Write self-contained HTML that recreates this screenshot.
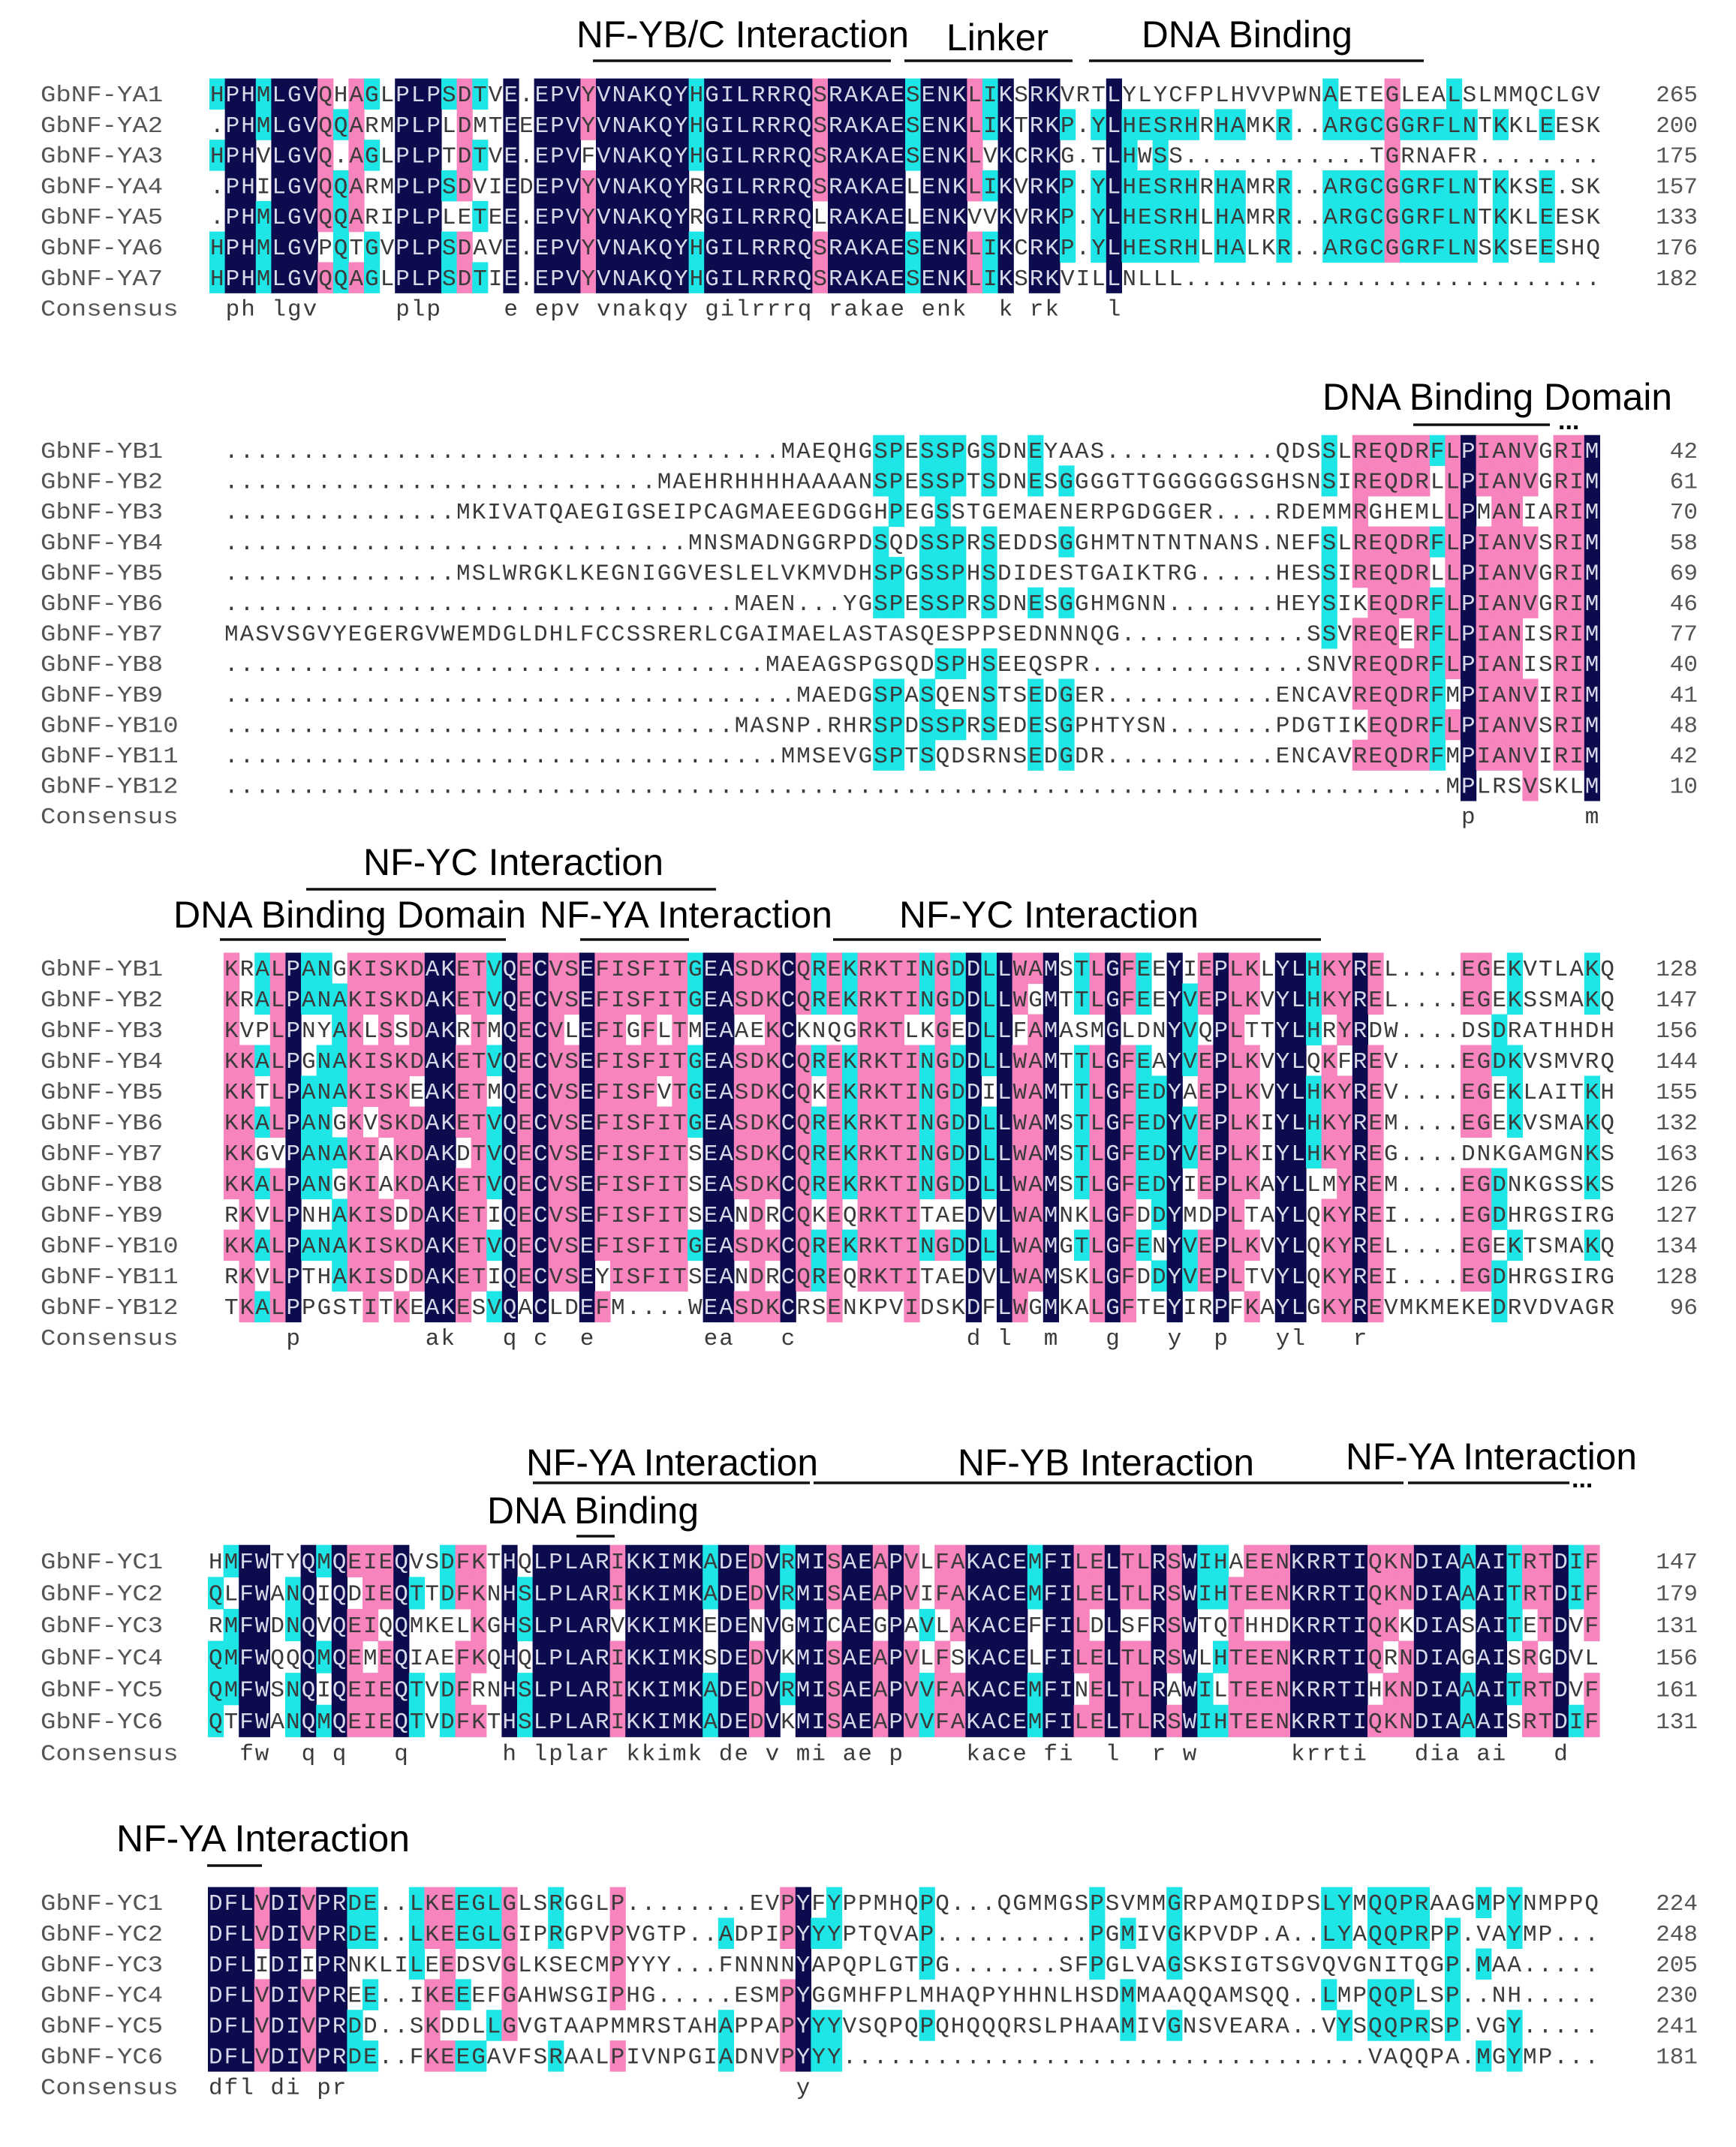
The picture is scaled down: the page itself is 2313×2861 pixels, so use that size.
<!DOCTYPE html>
<html><head><meta charset="utf-8"><style>
html,body{margin:0;padding:0;background:#fff;}
svg{display:block;}
</style></head><body>
<svg id="chart" xmlns="http://www.w3.org/2000/svg" width="2313" height="2861" viewBox="0 0 2313 2861">
<rect x="0" y="0" width="2313" height="2861" fill="#ffffff"/>
<g id="ann" font-family="'Liberation Sans', sans-serif" font-size="50" fill="#000">
  <text x="768" y="63" textLength="443" lengthAdjust="spacingAndGlyphs">NF-YB/C Interaction</text>
  <line x1="790" y1="81" x2="1187" y2="81" stroke="#111" stroke-width="3.5"/>
  <text x="1261" y="67" textLength="136" lengthAdjust="spacingAndGlyphs">Linker</text>
  <line x1="1205" y1="81" x2="1429" y2="81" stroke="#111" stroke-width="3.5"/>
  <text x="1521" y="63" textLength="281" lengthAdjust="spacingAndGlyphs">DNA Binding</text>
  <line x1="1451" y1="81" x2="1897" y2="81" stroke="#111" stroke-width="3.5"/>

  <text x="1762" y="546" textLength="466" lengthAdjust="spacingAndGlyphs">DNA Binding Domain</text>
  <line x1="1883" y1="566" x2="2065" y2="566" stroke="#111" stroke-width="3.5"/>
  <text x="2076" y="572" font-size="34" font-weight="bold">...</text>

  <text x="484" y="1166" textLength="400" lengthAdjust="spacingAndGlyphs">NF-YC Interaction</text>
  <line x1="408" y1="1185" x2="954" y2="1185" stroke="#111" stroke-width="3.5"/>
  <text x="231" y="1236" textLength="470" lengthAdjust="spacingAndGlyphs">DNA Binding Domain</text>
  <line x1="293" y1="1252" x2="674" y2="1252" stroke="#111" stroke-width="3.5"/>
  <text x="719" y="1236" textLength="390" lengthAdjust="spacingAndGlyphs">NF-YA Interaction</text>
  <line x1="773" y1="1252" x2="918" y2="1252" stroke="#111" stroke-width="3.5"/>
  <text x="1198" y="1236" textLength="399" lengthAdjust="spacingAndGlyphs">NF-YC Interaction</text>
  <line x1="1110" y1="1252" x2="1760" y2="1252" stroke="#111" stroke-width="3.5"/>

  <text x="701" y="1966" textLength="389" lengthAdjust="spacingAndGlyphs">NF-YA Interaction</text>
  <line x1="710" y1="1976" x2="1079" y2="1976" stroke="#111" stroke-width="3.5"/>
  <text x="1276" y="1966" textLength="395" lengthAdjust="spacingAndGlyphs">NF-YB Interaction</text>
  <line x1="1084" y1="1976" x2="1870" y2="1976" stroke="#111" stroke-width="3.5"/>
  <text x="1793" y="1958" textLength="388" lengthAdjust="spacingAndGlyphs">NF-YA Interaction</text>
  <line x1="1876" y1="1976" x2="2091" y2="1976" stroke="#111" stroke-width="3.5"/>
  <text x="2094" y="1982" font-size="34" font-weight="bold">...</text>
  <text x="649" y="2030" textLength="282" lengthAdjust="spacingAndGlyphs">DNA Binding</text>
  <line x1="768" y1="2047" x2="819" y2="2047" stroke="#111" stroke-width="3.5"/>

  <text x="155" y="2467" textLength="391" lengthAdjust="spacingAndGlyphs">NF-YA Interaction</text>
  <line x1="276" y1="2486" x2="349" y2="2486" stroke="#111" stroke-width="3.5"/>
</g>
<g id="aln"></g>
</svg>
<script>
// ---- data ----
const namesA = ["GbNF-YA1","GbNF-YA2","GbNF-YA3","GbNF-YA4","GbNF-YA5","GbNF-YA6","GbNF-YA7"];
const seqsA = [
"HPHMLGVQHAGLPLPSDTVE.EPVYVNAKQYHGILRRRQSRAKAESENKLIKSRKVRTLYLYCFPLHVVPWNAETEGLEALSLMMQCLGV",
".PHMLGVQQARMPLPLDMTEEEPVYVNAKQYHGILRRRQSRAKAESENKLIKTRKP.YLHESRHRHAMKR..ARGCGGRFLNTKKLEESK",
"HPHVLGVQ.AGLPLPTDTVE.EPVFVNAKQYHGILRRRQSRAKAESENKLVKCRKG.TLHWSS............TGRNAFR........",
".PHILGVQQARMPLPSDVIEDEPVYVNAKQYRGILRRRQSRAKAELENKLIKVRKP.YLHESRHRHAMRR..ARGCGGRFLNTKKSE.SK",
".PHMLGVQQARIPLPLETEE.EPVYVNAKQYRGILRRRQLRAKAELENKVVKVRKP.YLHESRHLHAMRR..ARGCGGRFLNTKKLEESK",
"HPHMLGVPQTGVPLPSDAVE.EPVYVNAKQYHGILRRRQSRAKAESENKLIKCRKP.YLHESRHLHALKR..ARGCGGRFLNSKSEESHQ",
"HPHMLGVQQAGLPLPSDTIE.EPVYVNAKQYHGILRRRQSRAKAESENKLIKSRKVILLNLLL..........................."
];
const numsA = [265,200,175,157,133,176,182];

const namesB = ["GbNF-YB1","GbNF-YB2","GbNF-YB3","GbNF-YB4","GbNF-YB5","GbNF-YB6","GbNF-YB7","GbNF-YB8","GbNF-YB9","GbNF-YB10","GbNF-YB11","GbNF-YB12"];
const seqsB = [
"*MAEQHGSPESSPGSDNEYAAS...........QDSSLREQDRFLPIANVGRIM",
"*MAEHRHHHHAAAANSPESSPTSDNESGGGGTTGGGGGGSGHSNSIREQDRLLPIANVGRIM",
"*MKIVATQAEGIGSEIPCAGMAEEGDGGHPEGSSTGEMAENERPGDGGER....RDEMMRGHEMLLPMANIARIM",
"*MNSMADNGGRPDSQDSSPRSEDDSGGHMTNTNTNANS.NEFSLREQDRFLPIANVSRIM",
"*MSLWRGKLKEGNIGGVESLELVKMVDHSPGSSPHSDIDESTGAIKTRG.....HESSIREQDRLLPIANVGRIM",
"*MAEN...YGSPESSPRSDNESGGHMGNN.......HEYSIKEQDRFLPIANVGRIM",
"MASVSGVYEGERGVWEMDGLDHLFCCSSRERLCGAIMAELASTASQESPPSEDNNNQG*SSVREQERFLPIANISRIM",
"*MAEAGSPGSQDSPHSEEQSPR..............SNVREQDRFLPIANISRIM",
"*MAEDGSPASQENSTSEDGER...........ENCAVREQDRFMPIANVIRIM",
"*MASNP.RHRSPDSSPRSEDESGPHTYSN.......PDGTIKEQDRFLPIANVSRIM",
"*MMSEVGSPTSQDSRNSEDGDR...........ENCAVREQDRFMPIANVIRIM",
"*MPLRSVSKLM"
];
const numsB = [42,61,70,58,69,46,77,40,41,48,42,10];

const namesC = namesB;
const seqsC = [
"KRALPANGKISKDAKETVQECVSEFISFITGEASDKCQREKRKTINGDDLLWAMSTLGFEEYIEPLKLYLHKYREL....EGEKVTLAKQ",
"KRALPANAKISKDAKETVQECVSEFISFITGEASDKCQREKRKTINGDDLLWGMTTLGFEEYVEPLKVYLHKYREL....EGEKSSMAKQ",
"KVPLPNYAKLSSDAKRTMQECVLEFIGFLTMEAAEKCKNQGRKTLKGEDLLFAMASMGLDNYVQPLTTYLHRYRDW....DSDRATHHDH",
"KKALPGNAKISKDAKETVQECVSEFISFITGEASDKCQREKRKTINGDDLLWAMTTLGFEAYVEPLKVYLQKFREV....EGDKVSMVRQ",
"KKTLPANAKISKEAKETMQECVSEFISFVTGEASDKCQKEKRKTINGDDILWAMTTLGFEDYAEPLKVYLHKYREV....EGEKLAITKH",
"KKALPANGKVSKDAKETVQECVSEFISFITGEASDKCQREKRKTINGDDLLWAMSTLGFEDYVEPLKIYLHKYREM....EGEKVSMAKQ",
"KKGVPANAKIAKDAKDTVQECVSEFISFITSEASDKCQREKRKTINGDDLLWAMSTLGFEDYVEPLKIYLHKYREG....DNKGAMGNKS",
"KKALPANGKIAKDAKETVQECVSEFISFITSEASDKCQREKRKTINGDDLLWAMSTLGFEDYIEPLKAYLLMYREM....EGDNKGSSKS",
"RKVLPNHAKISDDAKETIQECVSEFISFITSEANDRCQKEQRKTITAEDVLWAMNKLGFDDYMDPLTAYLQKYREI....EGDHRGSIRG",
"KKALPANAKISKDAKETVQECVSEFISFITGEASDKCQREKRKTINGDDLLWAMGTLGFENYVEPLKVYLQKYREL....EGEKTSMAKQ",
"RKVLPTHAKISDDAKETIQECVSEYISFITSEANDRCQREQRKTITAEDVLWAMSKLGFDDYVEPLTVYLQKYREI....EGDHRGSIRG",
"TKALPPGSTITKEAKESVQACLDEFM....WEASDKCRSENKPVIDSKDFLWGMKALGFTEYIRPFKAYLGKYREVMKMEKEDRVDVAGR"
];
const numsC = [128,147,156,144,155,132,163,126,127,134,128,96];

const namesD = ["GbNF-YC1","GbNF-YC2","GbNF-YC3","GbNF-YC4","GbNF-YC5","GbNF-YC6"];
const seqsD = [
"HMFWTYQMQEIEQVSDFKTHQLPLARIKKIMKADEDVRMISAEAPVLFAKACEMFILELTLRSWIHAEENKRRTIQKNDIAAAITRTDIF",
"QLFWANQIQDIEQTTDFKNHSLPLARIKKIMKADEDVRMISAEAPVIFAKACEMFILELTLRSWIHTEENKRRTIQKNDIAAAITRTDIF",
"RMFWDNQVQEIQQMKELKGHSLPLARVKKIMKEDENVGMICAEGPAVLAKACEFFILDLSFRSWTQTHHDKRRTIQKKDIASAITETDVF",
"QMFWQQQMQEMEQIAEFKQHQLPLARIKKIMKSDEDVKMISAEAPVLFSKACELFILELTLRSWLHTEENKRRTIQRNDIAGAISRGDVL",
"QMFWSNQIQEIEQTVDFRNHSLPLARIKKIMKADEDVRMISAEAPVVFAKACEMFINELTLRAWILTEENKRRTIHKNDIAAAITRTDVF",
"QTFWANQMQEIEQTVDFKTHSLPLARIKKIMKADEDVKMISAEAPVVFAKACEMFILELTLRSWIHTEENKRRTIQKNDIAAAISRTDIF"
];
const numsD = [147,179,131,156,161,131];

const namesE = namesD;
const seqsE = [
"DFLVDIVPRDE..LKEEGLGLSRGGLP........EVPYFYPPMHQPQ...QGMMGSPSVMMGRPAMQIDPSLYMQQPRAAGMPYNMPPQ",
"DFLVDIVPRDE..LKEEGLGIPRGPVPVGTP..ADPIPYYYPTQVAP..........PGMIVGKPVDP.A..LYAQQPRPP.VAYMP...",
"DFLIDIIPRNKLILEEDSVGLKSECMPYYY...FNNNNYAPQPLGTPG.......SFPGLVAGSKSIGTSGVQVGNITQGP.MAA.....",
"DFLVDIVPREE..IKEEEFGAHWSGIPHG.....ESMPYGGMHFPLMHAQPYHHNLHSDMMAAQQAMSQQ..LMPQQPLSP..NH.....",
"DFLVDIVPRDD..SKDDLLGVGTAAPMMRSTAHAPPAPYYYVSQPQPQHQQQRSLPHAAMIVGNSVEARA..VYSQQPRSP.VGY.....",
"DFLVDIVPRDE..FKEEGAVFSRAALPIVNPGIADNVPYYY*VAQQPA.MGYMP..."
];
const numsE = [224,248,205,230,241,181];

// ---- layout (not data) ----
const CW = 20.6;
const layout = [
  {key:"a", names:namesA, seqs:seqsA, nums:numsA, x0:279, y0:125, dy:40.8, L:90},
  {key:"b", names:namesB, seqs:seqsB, nums:numsB, x0:298, y0:600, dy:40.6, L:89},
  {key:"c", names:namesC, seqs:seqsC, nums:numsC, x0:298, y0:1290, dy:41.0, L:90},
  {key:"d", names:namesD, seqs:seqsD, nums:numsD, x0:277, y0:2080, dy:42.6, L:90},
  {key:"e", names:namesE, seqs:seqsE, nums:numsE, x0:277, y0:2535, dy:40.9, L:90}
];
const NAVY="#0b0b4e", PINK="#f784bd", CYAN="#1fe6e6";
const NS="http://www.w3.org/2000/svg";
const root=document.getElementById("aln");

function expand(s,L){
  if(s.indexOf("*")>=0){const n=L-(s.length-1);s=s.replace("*",".".repeat(Math.max(0,n)));}
  if(s.length<L) s=s+".".repeat(L-s.length);
  return s.slice(0,L);
}
function mk(tag,attrs,parent){
  const e=document.createElementNS(NS,tag);
  for(const k in attrs) e.setAttribute(k,attrs[k]);
  parent.appendChild(e);return e;
}

layout.forEach(blk=>{
  const g=mk("g",{},root);
  
  
  const rows=blk.seqs.map(s=>expand(s,blk.L));
  const n=rows.length;
  const colInfo=[];
  for(let c=0;c<blk.L;c++){
    const cnt={};
    rows.forEach(r=>{const ch=r[c]; if(ch!=="."&&ch!==" ") cnt[ch]=(cnt[ch]||0)+1;});
    let best=null,bc=0;
    for(const k in cnt){if(cnt[k]>bc){bc=cnt[k];best=k;}}
    let color=null,level=0;
    if(best){const f=bc/n; if(bc===n){color=NAVY;level=3;} else if(f>=0.75){color=PINK;level=2;} else if(f>=0.5){color=CYAN;level=1;}}
    colInfo.push({best,color,level});
  }
  rows.forEach((r,ri)=>{
    const cy=blk.y0+ri*blk.dy;
    for(let c=0;c<blk.L;c++){
      const inf=colInfo[c];
      if(inf.color && r[c]===inf.best){
        const rc=mk("rect",{x:(blk.x0+c*CW).toFixed(1),y:(cy-blk.dy/2).toFixed(1),width:(CW+0.6).toFixed(1),height:(blk.dy+0.6).toFixed(1),fill:inf.color},g);
        
        
      }
    }
  });
  rows.forEach((r,ri)=>{
    const cy=blk.y0+ri*blk.dy;
    const nm=mk("text",{x:54,y:(cy+10).toFixed(1),"font-family":"'Liberation Mono', monospace","font-size":31,fill:"#555",textLength:(blk.names[ri].length*20.4).toFixed(1),lengthAdjust:"spacingAndGlyphs"},g);
    nm.textContent=blk.names[ri];
    
    
    const tg=mk("g",{"font-family":"'Liberation Mono', monospace","font-size":31,"text-anchor":"middle"},g);
    
    
    for(let c=0;c<blk.L;c++){
      const ch=r[c];
      const inf=colInfo[c];
      const fill=(inf.level===3 && ch===inf.best)?"#d8d8e8":"#3a3a3a";
      const t=mk("text",{x:(blk.x0+c*CW+CW/2).toFixed(1),y:(cy+10).toFixed(1),fill:fill},tg);
      t.textContent=ch;
    }
    const num=mk("text",{x:2262,y:(cy+10).toFixed(1),"font-family":"'Liberation Mono', monospace","font-size":31,fill:"#555","text-anchor":"end"},g);
    num.textContent=String(blk.nums[ri]);
    
    
  });
  const cy=blk.y0+n*blk.dy;
  const cn=mk("text",{x:54,y:(cy+10).toFixed(1),"font-family":"'Liberation Mono', monospace","font-size":31,fill:"#555",textLength:(9*20.4).toFixed(1),lengthAdjust:"spacingAndGlyphs"},g);
  cn.textContent="Consensus";
  
  
  const cg=mk("g",{"font-family":"'Liberation Mono', monospace","font-size":31,"text-anchor":"middle",fill:"#3a3a3a"},g);
  
  
  for(let c=0;c<blk.L;c++){
    const inf=colInfo[c];
    if(inf.level===3){
      const t=mk("text",{x:(blk.x0+c*CW+CW/2).toFixed(1),y:(cy+10).toFixed(1)},cg);
      t.textContent=inf.best.toLowerCase();
    }
  }
});
</script>
</body></html>
